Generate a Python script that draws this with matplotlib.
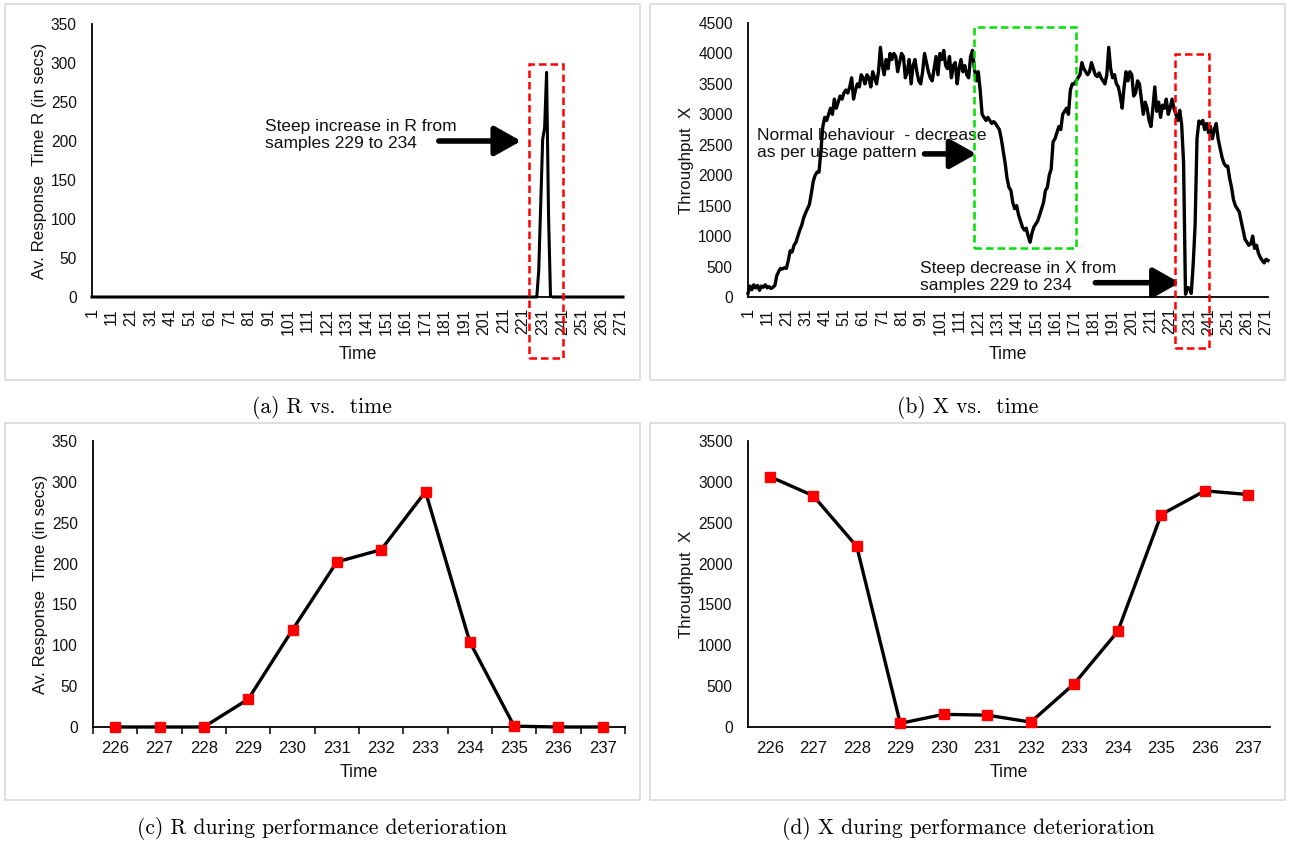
import matplotlib
matplotlib.use("Agg")
import matplotlib.pyplot as plt
from matplotlib.patches import Rectangle

W, H = 1289, 844

# ---- data ----
samples = list(range(1, 273))

# R (av. response time, secs): flat at zero except the spike 229..235
r_values = [0] * 228 + [34, 119, 202, 217, 288, 104, 1] + [0] * 37

# X (throughput) per sample
x_values = [
    60, 180, 120, 200, 150, 190, 110, 180, 160, 200,
    150, 170, 140, 160, 190, 350, 420, 470, 460, 480,
    470, 600, 760, 740, 850, 900, 1000, 1100, 1180, 1300,
    1380, 1450, 1520, 1700, 1900, 2000, 2050, 2050, 2400, 2800,
    2950, 2900, 3000, 3100, 3000, 3250, 3100, 3200, 3300, 3250,
    3350, 3400, 3350, 3450, 3600, 3250, 3400, 3500, 3450, 3650,
    3600, 3500, 3650, 3600, 3450, 3700, 3600, 3500, 3700, 4100,
    3800, 3650, 3900, 3750, 4000, 3900, 4000, 3950, 3700, 3850,
    4000, 3950, 3600, 3700, 3900, 3500, 3800, 3900, 3700, 3550,
    3500, 3700, 4000, 3850, 3700, 3600, 3550, 3750, 3950, 3650,
    4000, 3900, 4050, 3800, 3750, 3950, 3600, 3800, 3850, 3500,
    3750, 3900, 3700, 3800, 3650, 3600, 3950, 4050, 3750, 3550,
    3700, 3400, 3000, 2950, 2900, 2950, 2900, 2850, 2880, 2850,
    2800, 2750, 2600, 2400, 2200, 1950, 1800, 1750, 1550, 1450,
    1500, 1350, 1250, 1150, 1100, 1130, 1000, 900, 1050, 1150,
    1200, 1250, 1350, 1450, 1550, 1750, 1800, 2000, 2100, 2550,
    2600, 2700, 2800, 2750, 3000, 3050, 3100, 3000, 3400, 3500,
    3500, 3550, 3600, 3650, 3850, 3750, 3700, 3650, 3700, 3850,
    3750, 3650, 3620, 3680, 3600, 3550, 3500, 3650, 4100, 3750,
    3600, 3650, 3500, 3450, 3300, 3100, 3450, 3700, 3550, 3700,
    3650, 3300, 3350, 3550, 3500, 3250, 3000, 3200, 3100, 2900,
    2800, 3100, 3450, 3050, 3200, 2950, 3150, 3100, 3250, 3000,
    3100, 3250, 3100, 3000, 2900, 3065, 2830, 2210, 45, 155,
    145, 60, 530, 1170, 2600, 2890, 2845, 2900, 2750, 2850,
    2700, 2800, 2600, 2750, 2850, 2600, 2450, 2300, 2200, 2150,
    2150, 1950, 1800, 1600, 1500, 1450, 1400, 1250, 1100, 950,
    900, 850, 870, 1000, 800, 850, 720, 650, 600, 560,
    620, 600,
]

zoom_labels = ["226", "227", "228", "229", "230", "231",
               "232", "233", "234", "235", "236", "237"]
r_zoom = [0, 0, 0, 34, 119, 202, 217, 288, 104, 1, 0, 0]
x_zoom = [3065, 2830, 2210, 45, 155, 145, 60, 530, 1170, 2600, 2890, 2845]

captions = ["(a) R vs.  time", "(b) X vs.  time",
            "(c) R during performance deterioration",
            "(d) X during performance deterioration"]

plt.rcParams["font.family"] = ["Liberation Sans", "DejaVu Sans"]
TXT = "#111111"
FS = 11.2

fig = plt.figure(figsize=(W / 100, H / 100), dpi=100)


def px_rect(l, t, r, b):
    return [l / W, 1 - b / H, (r - l) / W, (b - t) / H]


def frame(l, t, r, b):
    fig.patches.append(Rectangle((l / W, 1 - b / H), (r - l) / W, (b - t) / H,
                                 transform=fig.transFigure, fill=False,
                                 edgecolor="#d9d9d9", lw=1.2))


def style(ax, ymax, ystep, ylabel):
    for s in ["top", "right"]:
        ax.spines[s].set_visible(False)
    ax.spines["left"].set_linewidth(1.3)
    ax.spines["bottom"].set_linewidth(1.3)
    ax.set_ylim(0, ymax)
    ax.set_yticks(range(0, ymax + 1, ystep))
    ax.tick_params(axis="y", length=0, pad=11, labelsize=FS, labelcolor=TXT)
    ax.set_ylabel(ylabel, fontsize=FS + 1, color=TXT, labelpad=3)
    ax.set_xlabel("Time", fontsize=FS + 1.5, color=TXT)


def time_axis(ax):
    ax.set_xlim(1, len(samples))
    ax.set_xticks(samples[::10])
    ax.set_xticklabels([str(s) for s in samples[::10]], rotation=90,
                       fontsize=FS + 0.3, color=TXT)
    ax.tick_params(axis="x", length=0, pad=8)
    ax.xaxis.labelpad = 8


def arrow(ax, x0, x1, y):
    ax.annotate("", xy=(x1, y), xytext=(x0, y),
                arrowprops=dict(arrowstyle="-|>,head_length=0.8,head_width=0.45",
                                lw=4, color="black", mutation_scale=20,
                                shrinkA=0, shrinkB=0), annotation_clip=False)


def dashed_box(ax, x0, x1, y0, y1, color):
    ax.add_patch(Rectangle((x0, y0), x1 - x0, y1 - y0, fill=False,
                           edgecolor=color, lw=1.8, ls=(0, (3, 1.6)),
                           clip_on=False, zorder=5))


# panel frames
frame(5, 4, 640, 380)
frame(650, 4, 1285, 380)
frame(5, 423, 640, 800)
frame(650, 423, 1285, 800)

# (a) R vs time
ax = fig.add_axes(px_rect(92, 24, 623, 297))
ax.plot(samples, r_values, color="black", lw=2.2, clip_on=False, zorder=3)
style(ax, 350, 50, "Av. Response  Time R (in secs)")
time_axis(ax)
ax.text(89.5, 208, "Steep increase in R from\nsamples 229 to 234", fontsize=FS + 1.3,
        color=TXT, ha="left", va="center", linespacing=1.2)
arrow(ax, 178, 220, 200)
dashed_box(ax, 224, 241.5, -78, 299, "#ff0000")

# (b) X vs time
ax = fig.add_axes(px_rect(748, 23, 1268, 297))
ax.plot(samples, x_values, color="black", lw=2.4, clip_on=False, zorder=3)
style(ax, 4500, 500, "Throughput  X")
time_axis(ax)
ax.text(5.5, 2510, "Normal behaviour  - decrease\nas per usage pattern",
        fontsize=FS + 1.3, color=TXT, ha="left", va="center", linespacing=1.2)
arrow(ax, 93, 120, 2350)
ax.text(90.5, 330, "Steep decrease in X from\nsamples 229 to 234",
        fontsize=FS + 1.3, color=TXT, ha="left", va="center", linespacing=1.2)
arrow(ax, 182, 226, 235)
dashed_box(ax, 118.8, 172, 805, 4433, "#00e000")
dashed_box(ax, 223.6, 241.4, -837, 3990, "#ff0000")

# (c) R zoom
ax = fig.add_axes(px_rect(93, 441, 625, 727))
pos = list(range(len(zoom_labels)))
ax.plot(pos, r_zoom, color="black", lw=2.4, marker="s", markersize=6.5,
        markerfacecolor="#ff0000", markeredgecolor="#ff0000", clip_on=False,
        zorder=3)
style(ax, 350, 50, "Av. Response  Time (in secs)")
ax.set_xlim(-0.5, len(zoom_labels) - 0.5)
ax.set_xticks(pos)
ax.set_xticklabels(zoom_labels, fontsize=FS + 0.8, color=TXT)
ax.set_xticks([p - 0.5 for p in range(len(zoom_labels) + 1)], minor=True)
ax.tick_params(axis="x", which="major", length=0, pad=10)
ax.tick_params(axis="x", which="minor", length=5, width=1.1, direction="out")
ax.xaxis.labelpad = 6

# (d) X zoom
ax = fig.add_axes(px_rect(748, 441, 1270, 727))
ax.plot(pos, x_zoom, color="black", lw=2.4, marker="s", markersize=6.5,
        markerfacecolor="#ff0000", markeredgecolor="#ff0000", clip_on=False,
        zorder=3)
style(ax, 3500, 500, "Throughput  X")
ax.set_xlim(-0.5, len(zoom_labels) - 0.5)
ax.set_xticks(pos)
ax.set_xticklabels(zoom_labels, fontsize=FS + 0.8, color=TXT)
ax.tick_params(axis="x", length=0, pad=10)
ax.xaxis.labelpad = 6

# captions
for cx, cy, txt in [(322, 407, captions[0]), (968, 407, captions[1]),
                    (322, 829, captions[2]), (968, 829, captions[3])]:
    fig.text(cx / W, 1 - cy / H, txt, family="cmr10", fontsize=15.5,
             ha="center", va="center", color="black")

fig.savefig("out.png", dpi=100, facecolor="white")
